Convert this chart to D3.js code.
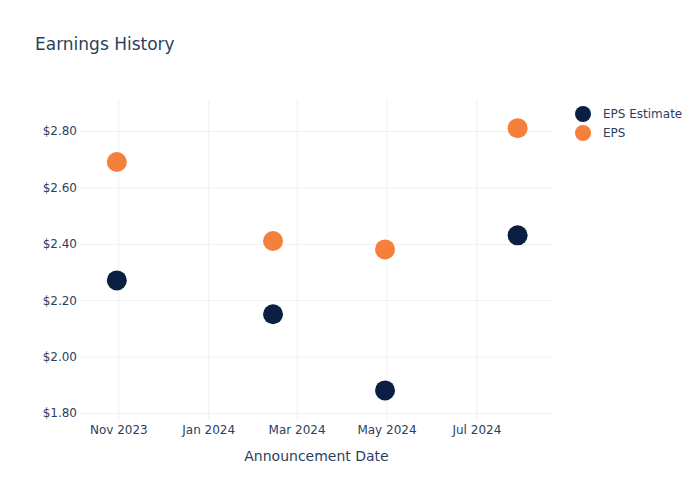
<!DOCTYPE html>
<html><head><meta charset="utf-8">
<script src="https://cdn.jsdelivr.net/npm/d3@7"></script>
<style>body{margin:0;background:#fff}svg{font-family:"DejaVu Sans",Verdana,sans-serif}</style>
</head><body><svg id="c" width="700" height="500"></svg>
<script>
const dates = ["2023-10-31","2024-02-14","2024-04-30","2024-07-29"];
const epsEstimate = [2.27, 2.15, 1.88, 2.43];
const eps = [2.69, 2.41, 2.38, 2.81];
const seriesNames = ["EPS Estimate","EPS"];
const seriesColors = ["#0b1f42","#f5803b"];
const yTicks = [1.8, 2.0, 2.2, 2.4, 2.6, 2.8];
const xTicks = ["2023-11-01","2024-01-01","2024-03-01","2024-05-01","2024-07-01"];

const parse = d3.timeParse("%Y-%m-%d");
const svg = d3.select("#c");
const L=80, R=553, T=100, B=420;
const x = d3.scaleTime().domain([parse("2023-10-06"), parse("2024-08-22")]).range([L,R]);
const y = d3.scaleLinear().domain([1.775, 2.91]).range([B,T]);
const text="#2a3f5f", grid="#ebf0f8";

svg.append("text").attr("x",35).attr("y",50).attr("font-size",17).attr("fill",text).text("Earnings History");

const gx = svg.append("g").attr("transform",`translate(0,${B})`)
  .call(d3.axisBottom(x).tickValues(xTicks.map(parse)).tickFormat(d3.timeFormat("%b %Y")).tickSize(-(B-T)).tickPadding(5));
const gy = svg.append("g").attr("transform",`translate(${L},0)`)
  .call(d3.axisLeft(y).tickValues(yTicks).tickFormat(d=>"$"+d.toFixed(2)).tickSize(-(R-L)).tickPadding(3));
[gx,gy].forEach(g=>{
  g.select(".domain").remove();
  g.selectAll(".tick line").attr("stroke",grid).attr("stroke-width",1);
  g.selectAll(".tick text").attr("fill",text).attr("font-size",12).attr("font-family","DejaVu Sans, sans-serif");
});

svg.append("text").attr("x",(L+R)/2).attr("y",461).attr("text-anchor","middle").attr("font-size",14).attr("fill",text).text("Announcement Date");

[epsEstimate, eps].forEach((vals,i)=>{
  svg.append("g").selectAll("circle").data(vals).join("circle")
    .attr("cx",(d,j)=>x(parse(dates[j]))).attr("cy",d=>y(d)).attr("r",10)
    .attr("fill",seriesColors[i]);
});

const lg = svg.append("g");
seriesNames.forEach((n,i)=>{
  lg.append("circle").attr("cx",583).attr("cy",114+i*19).attr("r",8).attr("fill",seriesColors[i]);
  lg.append("text").attr("x",603).attr("y",118+i*19).attr("font-size",12).attr("fill",text).text(n);
});
</script></body></html>
